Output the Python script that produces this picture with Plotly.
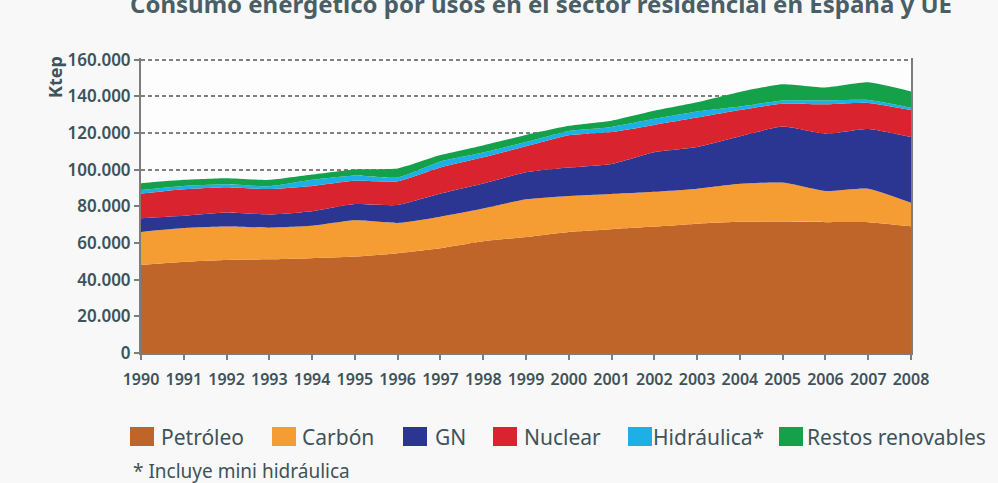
import plotly.graph_objects as go

# ---------------- data (ktep) ----------------
years = list(range(1990, 2009))
year_labels = [str(y) for y in years]

petroleo = [48000, 49800, 50800, 51100, 51700, 52600, 54500, 57200, 61000, 63300,
            66100, 67600, 69000, 70600, 71600, 71700, 71400, 71400, 69200]
carbon = [18100, 18400, 18200, 17300, 17700, 19800, 16500, 17200, 17800, 20600,
          19600, 19200, 19000, 19100, 20800, 21300, 17000, 18300, 12800]
gn = [7500, 6700, 7700, 7200, 8000, 8900, 9800, 12600, 13700, 14700,
      15500, 16400, 21600, 22700, 25900, 30600, 31300, 32600, 35900]
nuclear = [13400, 14500, 13800, 13900, 13800, 12700, 13000, 14300, 14300, 14200,
           17600, 17400, 14900, 16100, 14300, 12400, 16000, 14200, 14700]
hidraulica = [2000, 1800, 1600, 1500, 3300, 2900, 2000, 3200, 2600, 2300,
              2400, 2800, 3300, 3300, 1900, 1800, 2100, 1600, 1300]
restos = [3600, 3300, 3300, 3500, 2900, 3300, 4900, 3500, 3900, 3900,
          2800, 3400, 4400, 5000, 8000, 8900, 7100, 9600, 8800]

series_names = ["Petróleo", "Carbón", "GN", "Nuclear", "Hidráulica*", "Restos renovables"]
series_values = [petroleo, carbon, gn, nuclear, hidraulica, restos]
series_colors = ["#c0652a", "#f59d33", "#2b3592", "#d9242f", "#1cb0e6", "#15a04a"]

y_ticks = [0, 20000, 40000, 60000, 80000, 100000, 120000, 140000, 160000]

title_text = "Consumo energético por usos en el sector residencial en España y UE"
footnote = "* Incluye mini hidráulica"

# ---------------- layout geometry ----------------
W, H = 998, 483
L, R, T, B = 141, 87, 58, 130
PW, PH = W - L - R, H - T - B


def px(x):
    return (x - L) / PW


def py(y):
    return (H - B - y) / PH


TEXT = "#3e535b"
FONT = "Noto Sans"

fig = go.Figure()
for name, vals, color in zip(series_names, series_values, series_colors):
    fig.add_trace(go.Scatter(
        x=years, y=vals, name=name, stackgroup="one", mode="lines",
        line=dict(width=0, color=color, shape="spline", smoothing=0.5),
        fillcolor=color, showlegend=False,
    ))

shapes = []
annotations = []

# custom legend
sq_x = [130, 272, 403, 493, 628, 779]
txt_x = [159, 300, 433, 522, 651, 805]
for name, color, sx, tx in zip(series_names, series_colors, sq_x, txt_x):
    shapes.append(dict(type="rect", xref="paper", yref="paper",
                       x0=px(sx), x1=px(sx + 24), y0=py(446), y1=py(427),
                       fillcolor=color, line=dict(width=0), layer="above"))
    annotations.append(dict(text=name, xref="paper", yref="paper",
                            x=px(tx), y=py(437), xanchor="left", yanchor="middle",
                            showarrow=False, font=dict(family=FONT, size=21, color=TEXT)))

annotations.append(dict(text=footnote, xref="paper", yref="paper",
                        x=px(131), y=py(471), xanchor="left", yanchor="middle",
                        showarrow=False, font=dict(family=FONT, size=19, color=TEXT)))

annotations.append(dict(text="<b>" + title_text + "</b>", xref="paper", yref="paper",
                        x=px(541), y=py(3), xanchor="center", yanchor="middle",
                        showarrow=False, font=dict(family=FONT, size=24, color="#4a5e66")))

annotations.append(dict(text="<b>Ktep</b>", xref="paper", yref="paper",
                        x=px(55), y=py(77), xanchor="center", yanchor="middle",
                        textangle=-90, showarrow=False,
                        font=dict(family=FONT, size=18, color=TEXT)))

fig.update_layout(
    width=W, height=H,
    margin=dict(l=L, r=R, t=T, b=B),
    paper_bgcolor="#f8f8f8",
    plot_bgcolor="#fdfdfd",
    separators=",.",
    showlegend=False,
    shapes=shapes,
    annotations=annotations,
    xaxis=dict(
        range=[1990, 2008], tickmode="array", tickvals=years, ticktext=year_labels,
        showgrid=False, zeroline=False,
        showline=True, linecolor="#7d7d7d", linewidth=2,
        ticks="outside", ticklen=5, tickcolor="#7d7d7d", tickwidth=1.5,
        ticklabelstandoff=6,
        tickfont=dict(family=FONT, size=16, color=TEXT, weight=600),
    ),
    yaxis=dict(
        range=[0, 161000], tickmode="array", tickvals=y_ticks,
        tickformat=",d",
        showgrid=True, gridcolor="#7f7f7f", gridwidth=1.5, griddash="4px,3px",
        zeroline=False,
        showline=True, mirror=True, linecolor="#7d7d7d", linewidth=2,
        ticks="outside", ticklen=5, tickcolor="#7d7d7d", tickwidth=1.5,
        tickfont=dict(family=FONT, size=17, color=TEXT, weight=600),
    ),
)

fig.write_html(
    "out.html",
    config={"displayModeBar": False},
    post_script="document.body.style.margin='0';document.body.style.padding='0';"
                "document.body.style.background='#f8f8f8';",
)
